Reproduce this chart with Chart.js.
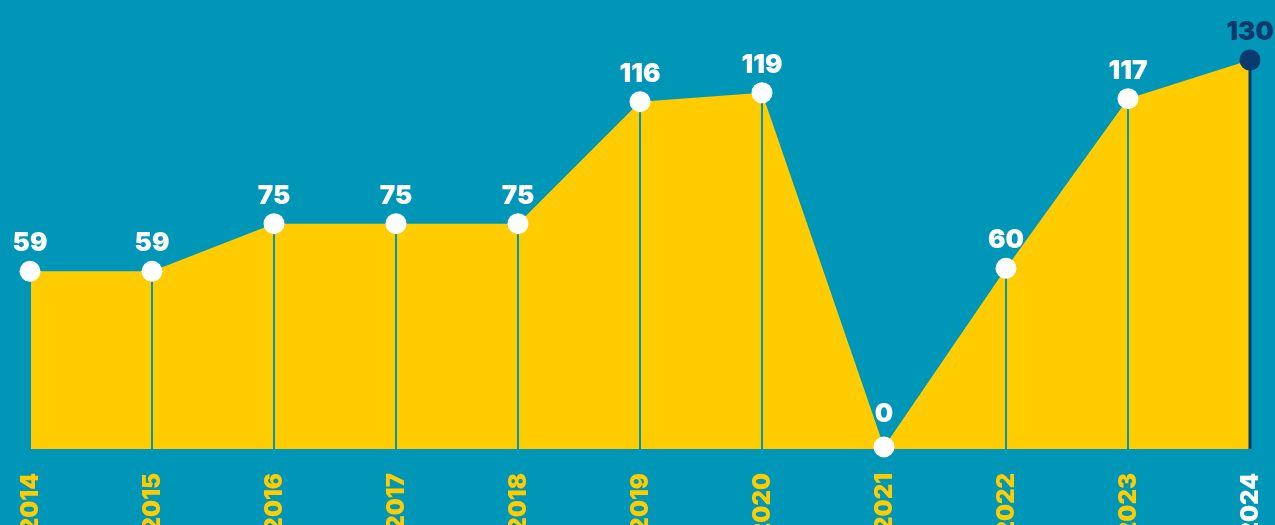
<!DOCTYPE html>
<html>
<head>
<meta charset="utf-8">
<script src="https://cdn.jsdelivr.net/npm/chart.js@4.4.1/dist/chart.umd.min.js"></script>
<style>
  html, body { margin: 0; padding: 0; background: #0096b8; }
  #wrap { width: 1275px; height: 525px; }
</style>
</head>
<body>
<div id="wrap"><canvas id="yearChart" width="1275" height="525"></canvas></div>
<script>
// lata i wartości
const years = ['2014', '2015', '2016', '2017', '2018', '2019', '2020', '2021', '2022', '2023', '2024'];
const values = [59, 59, 75, 75, 75, 116, 119, 0, 60, 117, 130];

const BG = '#0096b8';
const YELLOW = '#ffcc00';
const NAVY = '#0b3a6e';
const FONT = 'Inter, "DejaVu Sans", sans-serif';

const isLast = (i) => i === values.length - 1;

// linie pionowe od punktu do podstawy + etykiety
const decorPlugin = {
    id: 'decor',
    afterDatasetDraw(chart, args) {
        if (args.index !== 0) return;
        const ctx = chart.ctx;
        const x = chart.scales.x, y = chart.scales.y;
        const bottom = chart.chartArea.bottom;
        ctx.save();
        values.forEach((v, i) => {
            const px = x.getPixelForValue(i);
            const py = y.getPixelForValue(v);
            ctx.beginPath();
            ctx.strokeStyle = isLast(i) ? NAVY : BG;
            ctx.lineWidth = isLast(i) ? 3 : 2;
            ctx.moveTo(px, py);
            ctx.lineTo(px, bottom);
            ctx.stroke();
        });
        ctx.restore();
    },
    afterDatasetsDraw(chart) {
        const ctx = chart.ctx;
        const x = chart.scales.x, y = chart.scales.y;
        ctx.save();
        // wartości nad punktami
        ctx.font = '900 26px ' + FONT;
        ctx.textAlign = 'center';
        ctx.textBaseline = 'alphabetic';
        values.forEach((v, i) => {
            const px = x.getPixelForValue(i);
            const py = y.getPixelForValue(v);
            ctx.fillStyle = isLast(i) ? NAVY : '#ffffff';
            const off = v === 0 ? 25 : 20;
            ctx.fillText(String(v), px, py - off);
        });
        // lata pionowo pod wykresem
        ctx.font = '900 24px ' + FONT;
        ctx.textAlign = 'right';
        ctx.textBaseline = 'middle';
        years.forEach((lab, i) => {
            const px = x.getPixelForValue(i);
            ctx.save();
            ctx.translate(px + 1, 473);
            ctx.rotate(-Math.PI / 2);
            ctx.fillStyle = isLast(i) ? '#ffffff' : YELLOW;
            ctx.fillText(lab, 0, 0);
            ctx.restore();
        });
        ctx.restore();
    }
};

new Chart(document.getElementById('yearChart').getContext('2d'), {
    type: 'line',
    data: {
        labels: years,
        datasets: [{
            data: values,
            fill: 'start',
            backgroundColor: YELLOW,
            borderWidth: 0,
            pointRadius: 0,
            tension: 0,
            order: 2
        }, {
            data: values,
            showLine: false,
            clip: false,
            pointRadius: 10.5,
            pointBorderWidth: 0,
            pointBackgroundColor: values.map((v, i) => isLast(i) ? NAVY : '#ffffff'),
            order: 1
        }]
    },
    options: {
        responsive: false,
        animation: false,
        layout: { padding: { left: 30, right: 25, top: 60, bottom: 76 } },
        plugins: { legend: { display: false }, tooltip: { enabled: false } },
        scales: {
            x: { display: false, offset: false },
            y: { display: false, min: -0.7, max: 130 }
        }
    },
    plugins: [decorPlugin]
});
</script>
</body>
</html>
